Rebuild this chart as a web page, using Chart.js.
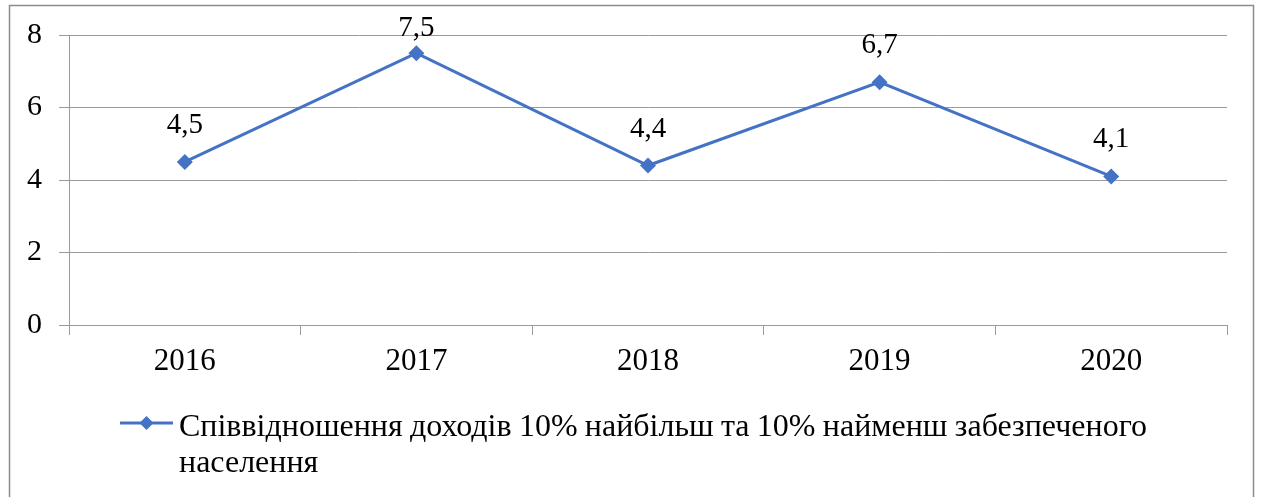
<!DOCTYPE html>
<html><head><meta charset="utf-8">
<script src="https://cdn.jsdelivr.net/npm/chart.js@4/dist/chart.umd.min.js"></script>
<style>html,body{margin:0;padding:0;background:#fff;} #wrap{position:relative;width:1261px;height:497px;}</style>
</head><body><div id="wrap"><canvas id="c" width="1261" height="497"></canvas></div>
<script>
const categories = ['2016', '2017', '2018', '2019', '2020'];
const values = [4.5, 7.5, 4.4, 6.7, 4.1];
const yTicks = [0, 2, 4, 6, 8];
const seriesName = 'Співвідношення доходів 10% найбільш та 10% найменш забезпеченого населення';
const legendLines = ['Співвідношення доходів 10% найбільш та 10% найменш забезпеченого', 'населення'];

const FONT = '"Liberation Serif", "Times New Roman", serif';
const LINE_COLOR = '#4472C4';
const GRID = '#9a9a9a';
Chart.defaults.font.family = FONT;
Chart.defaults.color = '#000';

const frame = {
  id: 'frame',
  beforeDraw(chart) {
    const c = chart.ctx;
    c.save();
    c.fillStyle = '#fff';
    c.fillRect(0, 0, chart.width, chart.height);
    c.strokeStyle = '#8c8c8c';
    c.lineWidth = 1.5;
    c.strokeRect(9.5, 5.5, 1244, 520);
    c.restore();
  }
};

const dataLabels = {
  id: 'dataLabels',
  afterDatasetsDraw(chart) {
    const c = chart.ctx;
    const meta = chart.getDatasetMeta(0);
    c.save();
    c.font = '29px ' + FONT;
    c.fillStyle = '#000';
    c.textAlign = 'center';
    c.textBaseline = 'alphabetic';
    meta.data.forEach((p, i) => {
      const t = String(values[i]).replace('.', ',');
      const y = Math.max(p.y - 29, 36);
      c.fillText(t, p.x, y);
    });
    c.restore();
  }
};

const legendPlugin = {
  id: 'legendPlugin',
  afterDraw(chart) {
    const c = chart.ctx;
    c.save();
    c.strokeStyle = LINE_COLOR;
    c.lineWidth = 3;
    c.beginPath();
    c.moveTo(120, 423);
    c.lineTo(173, 423);
    c.stroke();
    c.fillStyle = LINE_COLOR;
    const cx = 146.5, cy = 423, r = 7;
    c.beginPath();
    c.moveTo(cx, cy - r); c.lineTo(cx + r, cy); c.lineTo(cx, cy + r); c.lineTo(cx - r, cy);
    c.closePath(); c.fill();
    c.fillStyle = '#000';
    c.font = '32px ' + FONT;
    c.textBaseline = 'alphabetic';
    c.textAlign = 'left';
    const x0 = 179, W = 968;
    const words = legendLines[0].split(' ');
    const widths = words.map(w => c.measureText(w).width);
    const sum = widths.reduce((a, b) => a + b, 0);
    const gap = (W - sum) / (words.length - 1);
    let x = x0;
    words.forEach((w, i) => { c.fillText(w, x, 436); x += widths[i] + gap; });
    c.fillText(legendLines[1], x0, 472);
    c.restore();
  }
};

new Chart(document.getElementById('c'), {
  type: 'line',
  data: {
    labels: categories,
    datasets: [{
      label: seriesName,
      data: values,
      borderColor: LINE_COLOR,
      backgroundColor: LINE_COLOR,
      borderWidth: 3,
      pointStyle: 'rectRot',
      pointRadius: 8,
      pointHoverRadius: 8,
      pointBorderWidth: 0,
      tension: 0,
      fill: false
    }]
  },
  options: {
    responsive: false,
    animation: false,
    devicePixelRatio: 1,
    layout: { padding: { left: 0, top: 35, right: 34, bottom: 0 } },
    plugins: { legend: { display: false }, tooltip: { enabled: false } },
    scales: {
      x: {
        offset: true,
        grid: { offset: true, drawOnChartArea: false, color: GRID, tickLength: 10 },
        border: { color: GRID },
        ticks: { font: { size: 31 }, padding: 8, maxRotation: 0, color: '#000' },
        afterFit(s) { s.height = 172; }
      },
      y: {
        min: 0, max: 8,
        afterBuildTicks(s) { s.ticks = yTicks.map(v => ({ value: v })); },
        ticks: { font: { size: 30 }, padding: 17, color: '#000' },
        grid: { color: GRID, tickLength: 10 },
        border: { color: GRID },
        afterFit(s) { s.width = 69; }
      }
    }
  },
  plugins: [frame, dataLabels, legendPlugin]
});
</script>
</body></html>
